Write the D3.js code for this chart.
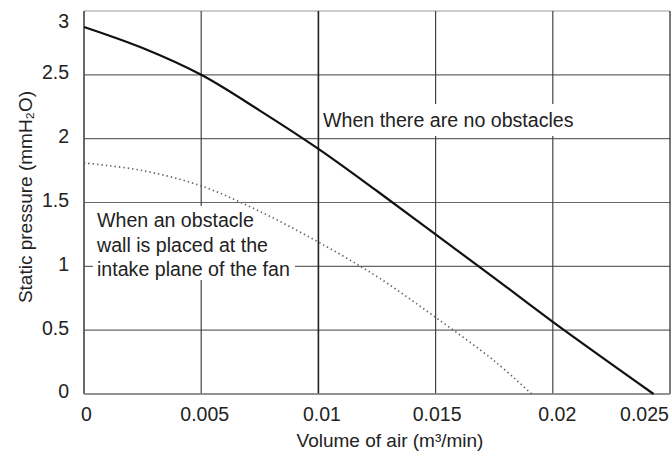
<!DOCTYPE html>
<html><head><meta charset="utf-8">
<script src="https://cdn.jsdelivr.net/npm/d3@7"></script>
<style>body{margin:0;background:#fff}svg{display:block}text{font-family:"Liberation Sans",Arial,sans-serif;fill:#222}</style>
</head><body><svg id="c" width="672" height="459"></svg>
<script>
const xTicks=[0,0.005,0.01,0.015,0.02,0.025];
const xTickLabels=["0","0.005","0.01","0.015","0.02","0.025"];
const yTicks=[0,0.5,1,1.5,2,2.5,3];
const yTickLabels=["0","0.5","1","1.5","2","2.5","3"];
const noObstacleX=[0,0.0025,0.005,0.0075,0.01,0.0125,0.015,0.0175,0.02,0.0243];
const noObstacleY=[2.875,2.71,2.5,2.22,1.92,1.59,1.25,0.91,0.565,0];
const obstacleX=[0,0.0025,0.005,0.0075,0.01,0.0125,0.015,0.0175,0.0191];
const obstacleY=[1.81,1.75,1.63,1.43,1.19,0.92,0.6,0.26,0];
const xTitle="Volume of air (m³/min)";
const yTitle="Static pressure (mmH₂O)";
const label1="When there are no obstacles";
const label2=["When an obstacle","wall is placed at the","intake plane of the fan"];

const svg=d3.select("#c");
const L=84,R=670,T=11,B=394;
const x=d3.scaleLinear().domain([0,0.025]).range([L,R]);
const y=d3.scaleLinear().domain([0,3]).range([B,T]);

// grid
const g=svg.append("g");
g.selectAll("line.h").data(yTicks).join("line").attr("x1",L).attr("x2",R)
 .attr("y1",d=>y(d)).attr("y2",d=>y(d)).attr("stroke",d=>d===3?"#999":"#666").attr("stroke-width",1.2);
g.selectAll("line.v").data(xTicks).join("line").attr("y1",T).attr("y2",B)
 .attr("x1",d=>x(d)).attr("x2",d=>x(d)).attr("stroke",(d,i)=>(i===2||i===5)?"#222":"#444").attr("stroke-width",(d,i)=>i===2?1.6:1.2);

// axes labels via d3 axes
const xa=svg.append("g").attr("transform",`translate(0,${B})`)
 .call(d3.axisBottom(x).tickValues(xTicks).tickFormat((d,i)=>xTickLabels[i]).tickSize(0).tickPadding(13));
xa.select(".domain").remove();
xa.selectAll("text").attr("font-size",19.5).attr("fill","#222").style("font-family","Liberation Sans, Arial, sans-serif")
 .attr("dx",(d,i)=>[2,3,3,1,4,-26][i]);
const ya=svg.append("g").attr("transform",`translate(${L},0)`)
 .call(d3.axisLeft(y).tickValues(yTicks).tickFormat((d,i)=>yTickLabels[i]).tickSize(0).tickPadding(15));
ya.select(".domain").remove();
ya.selectAll("text").attr("font-size",19.5).attr("fill","#222").style("font-family","Liberation Sans, Arial, sans-serif")
 .attr("dy",(d)=>d===3?"0.85em":"0.2em");

// label backgrounds
svg.append("rect").attr("x",320).attr("y",104).attr("width",258).attr("height",32).attr("fill","#fff");
svg.append("text").attr("x",323).attr("y",127).attr("font-size",19.6).text(label1);
const lb=[[97,227,160],[97,252,176],[97,276,198]];
label2.forEach((t,i)=>{
  svg.append("rect").attr("x",lb[i][0]-4).attr("y",lb[i][1]-21).attr("width",lb[i][2]+4).attr("height",i===0?26:25).attr("fill","#fff");
});
label2.forEach((t,i)=>{
  svg.append("text").attr("x",lb[i][0]).attr("y",lb[i][1]).attr("font-size",19.6).text(t);
});

// frame
svg.append("line").attr("x1",L).attr("x2",L).attr("y1",T).attr("y2",B).attr("stroke","#555").attr("stroke-width",1.3);
svg.append("line").attr("x1",L).attr("x2",R).attr("y1",B).attr("y2",B).attr("stroke","#888").attr("stroke-width",1.3);

// curves
const line=d3.line().x(d=>x(d[0])).y(d=>y(d[1])).curve(d3.curveCatmullRom.alpha(0.5));
svg.append("path").datum(obstacleX.map((v,i)=>[v,obstacleY[i]])).attr("d",line)
 .attr("fill","none").attr("stroke","#666").attr("stroke-width",1.7).attr("stroke-dasharray","1.4,3");
svg.append("path").datum(noObstacleX.map((v,i)=>[v,noObstacleY[i]])).attr("d",line)
 .attr("fill","none").attr("stroke","#111").attr("stroke-width",2.2);

// titles
svg.append("text").attr("x",390).attr("y",447).attr("text-anchor","middle").attr("font-size",19).text(xTitle);
svg.append("text").attr("transform","translate(32,197) rotate(-90)").attr("text-anchor","middle").attr("font-size",19).text(yTitle);
</script></body></html>
